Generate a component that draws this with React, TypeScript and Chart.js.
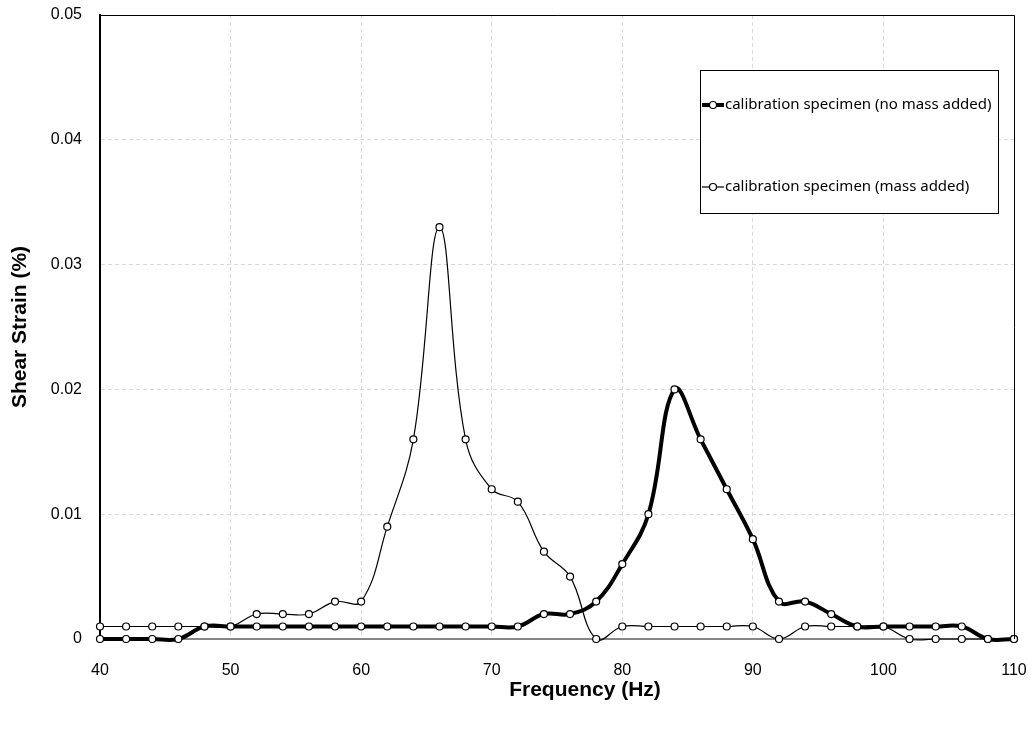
import React, { useEffect, useRef } from "react";
import { Chart, registerables } from "chart.js";

Chart.register(...registerables);

const frequencies = [40, 42, 44, 46, 48, 50, 52, 54, 56, 58, 60, 62, 64, 66, 68, 70, 72, 74, 76, 78, 80, 82, 84, 86, 88, 90, 92, 94, 96, 98, 100, 102, 104, 106, 108, 110];
const noMassAdded = [0, 0, 0, 0, 0.001, 0.001, 0.001, 0.001, 0.001, 0.001, 0.001, 0.001, 0.001, 0.001, 0.001, 0.001, 0.001, 0.002, 0.002, 0.003, 0.006, 0.01, 0.02, 0.016, 0.012, 0.008, 0.003, 0.003, 0.002, 0.001, 0.001, 0.001, 0.001, 0.001, 0, 0];
const massAdded = [0.001, 0.001, 0.001, 0.001, 0.001, 0.001, 0.002, 0.002, 0.002, 0.003, 0.003, 0.009, 0.016, 0.033, 0.016, 0.012, 0.011, 0.007, 0.005, 0, 0.001, 0.001, 0.001, 0.001, 0.001, 0.001, 0, 0.001, 0.001, 0.001, 0.001, 0, 0, 0, 0, 0];
const seriesLabels = ["calibration specimen (no mass added)", "calibration specimen (mass added)"];
const xAxisTitle = "Frequency (Hz)";
const yAxisTitle = "Shear Strain (%)";
const xMin = 40;
const xMax = 110;
const xStep = 10;
const yMin = 0;
const yMax = 0.05;
const yStep = 0.01;

const TICK_FONT = "'Liberation Sans', Arial, sans-serif";
const LEGEND_FONT = "'Noto Sans', 'Open Sans', sans-serif";

const frameAndTextPlugin = {
  id: "frameAndText",
  afterDraw(chart: any) {
    const { ctx, chartArea } = chart;
    const { left, right, top, bottom } = chartArea;
    ctx.save();
    ctx.strokeStyle = "#000";
    ctx.lineWidth = 1;
    ctx.setLineDash([]);
    ctx.beginPath();
    ctx.moveTo(left, top + 0.5);
    ctx.lineTo(right + 0.5, top + 0.5);
    ctx.lineTo(right + 0.5, bottom);
    ctx.stroke();

    ctx.fillStyle = "#000";
    ctx.font = `bold 21px ${TICK_FONT}`;
    ctx.textAlign = "center";
    ctx.textBaseline = "middle";
    ctx.fillText(xAxisTitle, 585, 690);
    ctx.save();
    ctx.translate(20, (top + bottom) / 2);
    ctx.rotate(-Math.PI / 2);
    ctx.fillText(yAxisTitle, 0, 0);
    ctx.restore();

    const bx = 700, by = 70, bw = 298, bh = 143;
    ctx.fillStyle = "#fff";
    ctx.fillRect(bx, by, bw, bh);
    ctx.strokeStyle = "#000";
    ctx.lineWidth = 1;
    ctx.strokeRect(bx + 0.5, by + 0.5, bw, bh);
    const rows = [105, 187];
    chart.data.datasets.forEach((ds: any, i: number) => {
      const y = rows[i];
      ctx.strokeStyle = "#000";
      ctx.lineWidth = ds.borderWidth;
      ctx.beginPath();
      ctx.moveTo(702, y);
      ctx.lineTo(724, y);
      ctx.stroke();
      ctx.beginPath();
      ctx.arc(713, y, 3.5, 0, Math.PI * 2);
      ctx.fillStyle = "#fff";
      ctx.fill();
      ctx.lineWidth = 1.2;
      ctx.stroke();
      ctx.fillStyle = "#000";
      ctx.font = `15px ${LEGEND_FONT}`;
      ctx.textAlign = "left";
      ctx.textBaseline = "middle";
      ctx.fillText(ds.label, 725, y);
    });
    ctx.restore();
  },
};

export default function App() {
  const canvasRef = useRef<HTMLCanvasElement | null>(null);

  useEffect(() => {
    if (!canvasRef.current) return;
    const toPoints = (vals: number[]) => frequencies.map((f, i) => ({ x: f, y: vals[i] }));
    const common = {
      pointRadius: 3.5,
      pointHoverRadius: 3.5,
      pointBackgroundColor: "#fff",
      pointBorderColor: "#000",
      pointBorderWidth: 1.2,
      borderColor: "#000",
      backgroundColor: "#fff",
      tension: 0.4,
      capBezierPoints: false,
      clip: false as const,
      fill: false,
    };
    const chart = new Chart(canvasRef.current, {
      type: "line",
      data: {
        datasets: [
          { ...common, label: seriesLabels[0], data: toPoints(noMassAdded), borderWidth: 4 },
          { ...common, label: seriesLabels[1], data: toPoints(massAdded), borderWidth: 1.2 },
        ],
      },
      options: {
        animation: false,
        responsive: true,
        maintainAspectRatio: false,
        layout: { padding: { top: 15, right: 20, left: 0, bottom: 0 } },
        plugins: {
          legend: { display: false },
          tooltip: { enabled: false },
          title: { display: false },
        },
        scales: {
          x: {
            type: "linear",
            min: xMin,
            max: xMax,
            afterFit: (s: any) => {
              s.height = 93;
              s.paddingLeft = 0;
              s.paddingRight = 0;
              s.paddingTop = 0;
              s.paddingBottom = 0;
            },
            afterBuildTicks: (s: any) => {
              const t = [];
              for (let v = xMin; v <= xMax; v += xStep) t.push({ value: v });
              s.ticks = t;
            },
            ticks: {
              color: "#000",
              font: { family: TICK_FONT, size: 16 },
              padding: 22,
              maxRotation: 0,
              callback: (v: any) => String(v),
            },
            grid: { color: "#d9d9d9", lineWidth: 1, drawTicks: false },
            border: { color: "#868686", width: 2, dash: [4, 3] },
          },
          y: {
            type: "linear",
            min: yMin,
            max: yMax,
            afterFit: (s: any) => {
              s.width = 100;
              s.paddingLeft = 0;
              s.paddingRight = 0;
              s.paddingTop = 0;
              s.paddingBottom = 0;
            },
            afterBuildTicks: (s: any) => {
              const t = [];
              for (let k = 0; k <= Math.round((yMax - yMin) / yStep); k++) t.push({ value: +(yMin + k * yStep).toFixed(4) });
              s.ticks = t;
            },
            ticks: {
              color: "#000",
              font: { family: TICK_FONT, size: 16 },
              padding: 18,
              callback: (v: any) => (v === 0 ? "0" : Number(v).toFixed(2)),
            },
            grid: { color: "#d9d9d9", lineWidth: 1, drawTicks: false },
            border: { color: "#000", width: 2, dash: [4, 3] },
          },
        },
      },
      plugins: [frameAndTextPlugin],
    });
    return () => chart.destroy();
  }, []);

  return (
    <div style={{ position: "absolute", left: 0, top: 0, width: 1034, height: 732, background: "#fff" }}>
      <canvas ref={canvasRef} />
    </div>
  );
}
